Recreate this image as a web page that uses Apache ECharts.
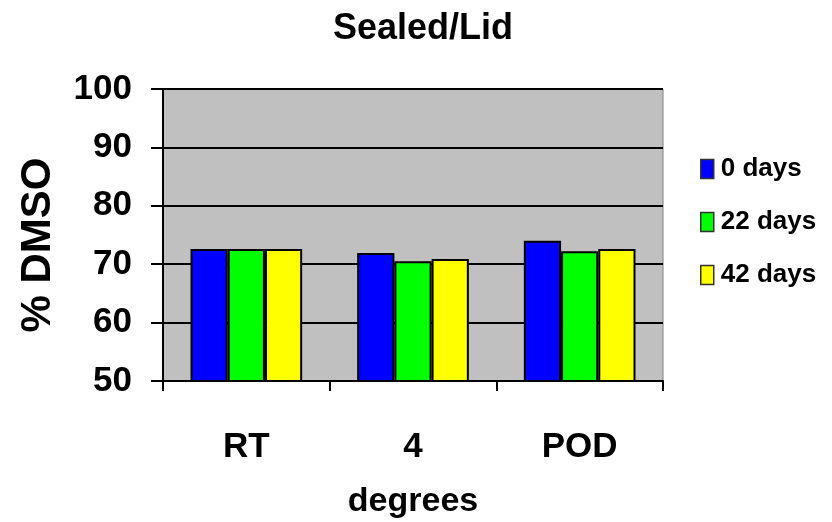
<!DOCTYPE html>
<html>
<head>
<meta charset="utf-8">
<script src="https://cdn.jsdelivr.net/npm/echarts@6/dist/echarts.min.js"></script>
<style>
  html, body { margin: 0; padding: 0; background: #fff; }
  #chart { width: 832px; height: 522px; }
</style>
</head>
<body>
<div id="chart"></div>
<script>
const categories = ['RT', '4', 'POD'];
const seriesNames = ['0 days', '22 days', '42 days'];
const days0 = [72.6, 71.9, 74.0];
const days22 = [72.6, 70.5, 72.2];
const days42 = [72.6, 70.9, 72.6];
const seriesColors = ['#0000ff', '#00ff00', '#ffff00'];

const font = '"Liberation Sans", Arial, sans-serif';
const values = [days0, days22, days42];

const chart = echarts.init(document.getElementById('chart'));
chart.setOption({
  animation: false,
  textStyle: { fontFamily: font },
  title: {
    text: 'Sealed/Lid',
    left: 418,
    top: 6,
    textAlign: 'center',
    textStyle: { fontFamily: font, fontSize: 36, fontWeight: 'bold', color: '#000' }
  },
  legend: {
    orient: 'vertical',
    left: 695,
    top: 151,
    itemGap: 27,
    itemWidth: 13,
    itemHeight: 19,
    icon: 'rect',
    itemStyle: { borderColor: '#333', borderWidth: 1.5 },
    textStyle: { fontFamily: font, fontSize: 26, fontWeight: 'bold', color: '#000', padding: [0, 0, 0, 2] },
    data: seriesNames
  },
  grid: {
    left: 163,
    right: 169,
    top: 89,
    bottom: 141,
    outerBoundsMode: 'none',
    show: true,
    backgroundColor: '#c0c0c0',
    borderColor: '#808080',
    borderWidth: 1
  },
  xAxis: {
    type: 'category',
    data: categories,
    name: 'degrees',
    nameLocation: 'middle',
    nameGap: 104,
    nameTextStyle: { fontFamily: font, fontSize: 34, fontWeight: 'bold', color: '#000' },
    axisLine: { lineStyle: { color: '#000', width: 2 } },
    axisTick: { show: true, length: 10, lineStyle: { color: '#000', width: 2 } },
    axisLabel: { fontFamily: font, fontSize: 35, fontWeight: 'bold', color: '#000', margin: 49 }
  },
  yAxis: {
    type: 'value',
    min: 50,
    max: 100,
    interval: 10,
    name: '% DMSO',
    nameLocation: 'middle',
    nameGap: 104,
    nameRotate: 90,
    nameTextStyle: { fontFamily: font, fontSize: 42, fontWeight: 'bold', color: '#000', padding: [0, 20, 0, 0] },
    axisLine: { show: true, lineStyle: { color: '#000', width: 2 } },
    axisTick: { show: true, length: 12, lineStyle: { color: '#000', width: 2 } },
    axisLabel: { fontFamily: font, fontSize: 35, fontWeight: 'bold', color: '#000', margin: 31 },
    splitLine: { show: true, lineStyle: { color: '#000', width: 2 } }
  },
  series: seriesNames.map((name, i) => ({
    name: name,
    type: 'bar',
    data: values[i],
    barGap: '0%',
    barCategoryGap: '33%',
    itemStyle: { color: seriesColors[i], borderColor: '#000', borderWidth: 2 }
  }))
});
</script>
</body>
</html>
